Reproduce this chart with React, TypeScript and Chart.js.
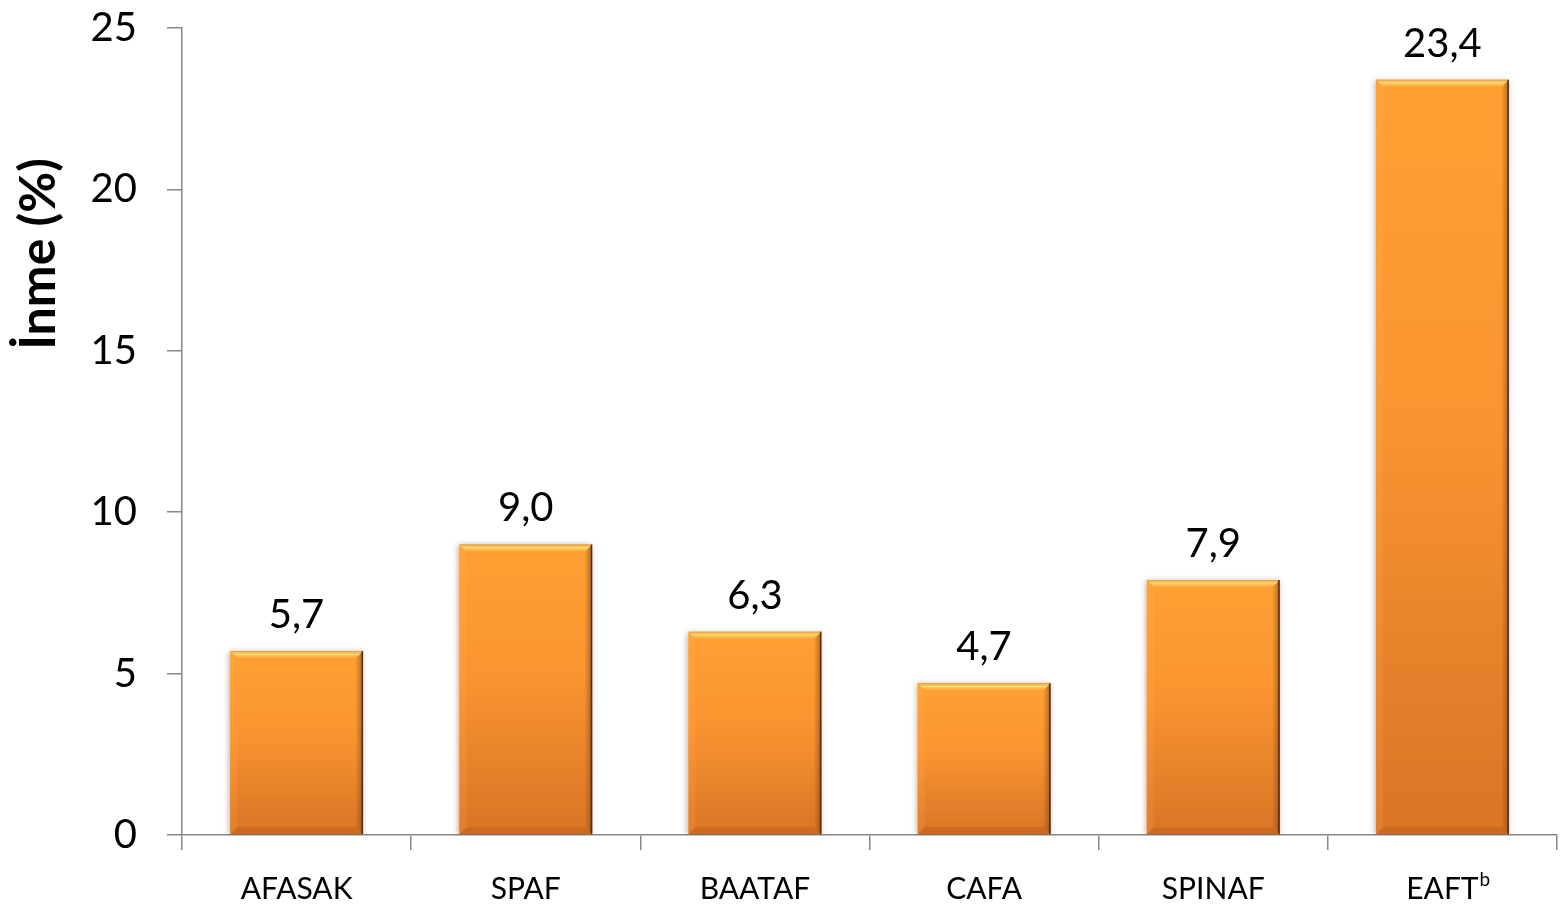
import React, { useEffect, useRef } from "react";
import { Chart, registerables } from "chart.js";

Chart.register(...registerables);

// Stroke rates by study
const studies = ["AFASAK", "SPAF", "BAATAF", "CAFA", "SPINAF", "EAFT"];
const footnoteMarks = ["", "", "", "", "", "b"];
const strokeRates = [5.7, 9.0, 6.3, 4.7, 7.9, 23.4];
const yTicks = [0, 5, 10, 15, 20, 25];
const yAxisTitle = "İnme (%)";

const FONT = "Lato, 'Open Sans', sans-serif";
const AXIS_GREY = "#888888";
const X_FONT_SIZE = 30;

const fmt = (v: number) => v.toFixed(1).replace(".", ",");

// Bevel highlights and shading on each bar, plus the value above it
const barDecor = {
  id: "barDecor",
  afterDatasetsDraw(chart: any) {
    const ctx = chart.ctx;
    const meta = chart.getDatasetMeta(0);
    meta.data.forEach((bar: any, i: number) => {
      const { x, y, base, width } = bar.getProps(["x", "y", "base", "width"], true);
      const l = x - width / 2;
      const r = x + width / 2;
      const t = y;
      const b = base;
      const bv = 7;
      ctx.save();
      // top highlight
      const gTop = ctx.createLinearGradient(0, t, 0, t + bv);
      gTop.addColorStop(0, "rgba(240,150,50,1)");
      gTop.addColorStop(0.45, "rgba(255,222,120,0.95)");
      gTop.addColorStop(1, "rgba(255,175,60,0.5)");
      ctx.fillStyle = gTop;
      ctx.beginPath();
      ctx.moveTo(l, t);
      ctx.lineTo(r, t);
      ctx.lineTo(r - bv, t + bv);
      ctx.lineTo(l + bv, t + bv);
      ctx.closePath();
      ctx.fill();
      // right shading
      const gR = ctx.createLinearGradient(r - bv, 0, r, 0);
      gR.addColorStop(0, "rgba(160,80,10,0.1)");
      gR.addColorStop(1, "rgba(110,50,5,0.55)");
      ctx.fillStyle = gR;
      ctx.beginPath();
      ctx.moveTo(r, t);
      ctx.lineTo(r, b);
      ctx.lineTo(r - bv, b - bv);
      ctx.lineTo(r - bv, t + bv);
      ctx.closePath();
      ctx.fill();
      // bottom shading
      ctx.fillStyle = "rgba(150,70,10,0.22)";
      ctx.beginPath();
      ctx.moveTo(l, b);
      ctx.lineTo(r, b);
      ctx.lineTo(r - bv, b - bv);
      ctx.lineTo(l + bv, b - bv);
      ctx.closePath();
      ctx.fill();
      // left light edge
      ctx.fillStyle = "rgba(255,190,110,0.15)";
      ctx.beginPath();
      ctx.moveTo(l, t);
      ctx.lineTo(l + bv, t + bv);
      ctx.lineTo(l + bv, b - bv);
      ctx.lineTo(l, b);
      ctx.closePath();
      ctx.fill();
      // dark right edge line
      ctx.strokeStyle = "rgba(80,35,0,0.85)";
      ctx.lineWidth = 1.5;
      ctx.beginPath();
      ctx.moveTo(r - 0.75, t);
      ctx.lineTo(r - 0.75, b);
      ctx.stroke();
      // value label
      ctx.fillStyle = "#000";
      ctx.font = `40px ${FONT}`;
      ctx.textAlign = "center";
      ctx.textBaseline = "alphabetic";
      ctx.fillText(fmt(strokeRates[i]), x, t - 23);
      ctx.restore();
    });
  },
};

// Superscript footnote marks after category labels
const footnotes = {
  id: "footnotes",
  afterDraw(chart: any) {
    const { ctx } = chart;
    const xs = chart.scales.x;
    const item = xs._labelItems || xs.getLabelItems();
    ctx.save();
    footnoteMarks.forEach((mark, i) => {
      if (!mark) return;
      ctx.font = `${X_FONT_SIZE}px ${FONT}`;
      const w = ctx.measureText(studies[i]).width;
      const cx = xs.getPixelForTick(i);
      const labelY = item && item[i] ? item[i].options.translation[1] : xs.bottom - 40;
      ctx.font = `${Math.round(X_FONT_SIZE * 0.62)}px ${FONT}`;
      ctx.fillStyle = "#000";
      ctx.textAlign = "left";
      ctx.textBaseline = "top";
      ctx.fillText(mark, cx + w / 2 + 1, labelY - 1);
    });
    ctx.restore();
  },
};

// Rotated y-axis title
const yTitle = {
  id: "yTitle",
  afterDraw(chart: any) {
    const { ctx, chartArea } = chart;
    ctx.save();
    ctx.translate(39, chartArea.top + (chartArea.bottom - chartArea.top) * 0.28);
    ctx.rotate(-Math.PI / 2);
    ctx.fillStyle = "#000";
    ctx.font = `bold 50px ${FONT}`;
    ctx.textAlign = "center";
    ctx.textBaseline = "middle";
    ctx.fillText(yAxisTitle, 0, 0);
    ctx.restore();
  },
};

// Soft drop shadow behind the bars
const barShadow = {
  id: "barShadow",
  beforeDatasetsDraw(chart: any) {
    const ctx = chart.ctx;
    ctx.save();
    ctx.shadowColor = "rgba(0,0,0,0.3)";
    ctx.shadowBlur = 6;
    ctx.shadowOffsetX = -1;
    ctx.shadowOffsetY = 1;
  },
  afterDatasetsDraw(chart: any) {
    chart.ctx.restore();
  },
};

export default function App() {
  const canvasRef = useRef<HTMLCanvasElement | null>(null);

  useEffect(() => {
    if (!canvasRef.current) return;
    const chart = new Chart(canvasRef.current, {
      type: "bar",
      data: {
        labels: studies,
        datasets: [
          {
            data: strokeRates,
            barPercentage: 0.58,
            categoryPercentage: 1,
            borderWidth: 0,
            backgroundColor: (c: any) => {
              const ch = c.chart;
              const ys = ch.scales && ch.scales.y;
              if (!ch.chartArea || !ys || typeof c.raw !== "number") return "#F7922F";
              const top = ys.getPixelForValue(c.raw);
              const bottom = ys.getPixelForValue(0);
              const g = ch.ctx.createLinearGradient(0, top, 0, bottom);
              g.addColorStop(0, "#FFA033");
              g.addColorStop(0.45, "#FA9430");
              g.addColorStop(1, "#D97426");
              return g;
            },
          },
        ],
      },
      options: {
        animation: false,
        responsive: false,
        maintainAspectRatio: false,
        layout: { padding: { top: 28, right: 5, left: 0, bottom: 0 } },
        plugins: {
          legend: { display: false },
          tooltip: { enabled: false },
        },
        scales: {
          x: {
            offset: true,
            afterFit: (s: any) => {
              s.height = 75;
            },
            border: { display: true, color: AXIS_GREY, width: 1.5 },
            grid: {
              display: true,
              offset: true,
              drawOnChartArea: false,
              drawTicks: true,
              tickLength: 15,
              color: AXIS_GREY,
              lineWidth: 1.5,
            },
            ticks: {
              color: "#000",
              font: { family: FONT, size: X_FONT_SIZE },
              padding: 21,
              maxRotation: 0,
            },
          },
          y: {
            min: 0,
            max: 25,
            afterFit: (s: any) => {
              s.width = 182;
              s.paddingTop = 0;
              s.paddingBottom = 0;
            },
            afterBuildTicks: (s: any) => {
              s.ticks = yTicks.map((v) => ({ value: v }));
            },
            border: { display: true, color: AXIS_GREY, width: 1.5 },
            grid: {
              display: true,
              drawOnChartArea: false,
              drawTicks: true,
              tickLength: 15,
              color: AXIS_GREY,
              lineWidth: 1.5,
            },
            ticks: {
              color: "#000",
              font: { family: FONT, size: 40 },
              padding: 30,
            },
          },
        },
      },
      plugins: [barShadow, barDecor, yTitle, footnotes],
    });
    return () => chart.destroy();
  }, []);

  return (
    <div style={{ position: "absolute", left: 0, top: 0, width: 1562, height: 910, background: "#fff" }}>
      <canvas ref={canvasRef} width={1562} height={910} />
    </div>
  );
}
